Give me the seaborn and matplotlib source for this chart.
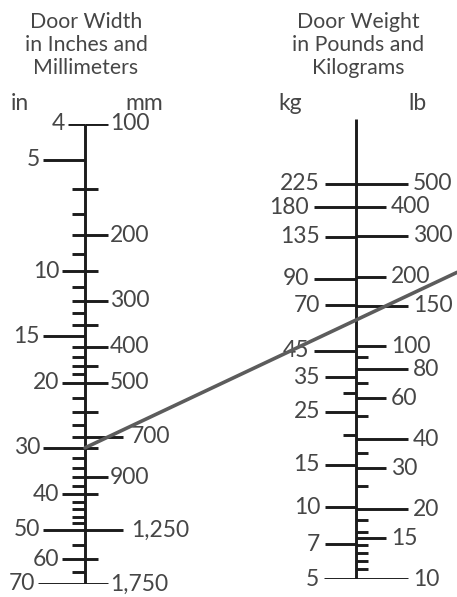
import matplotlib
matplotlib.use("Agg")
import matplotlib.pyplot as plt
import seaborn as sns

# --- door width scale (left) ---
inch_major = [4, 5, 10, 15, 20, 30, 40, 50, 60, 70]
inch_major_len = [17, 42, 23, 42, 23, 42, 23, 42, 23, 47]
inch_minor = [6, 7, 8, 9, 11, 12, 13, 14, 16, 17, 18, 19, 22, 24, 26, 28,
              32, 34, 36, 38, 42, 44, 46, 48, 55, 65]
mm_major = [100, 200, 300, 400, 500, 700, 900, 1250, 1750]
mm_labels = ["100", "200", "300", "400", "500", "700", "900", "1,250", "1,750"]
mm_major_len = [23, 23, 23, 23, 23, 38, 23, 38, 23]
mm_minor = [150, 250, 350, 450, 600, 750, 1000, 1500]

# --- door weight scale (right) ---
kg_major = [225, 180, 135, 90, 70, 45, 35, 25, 15, 10, 7, 5]
kg_major_len = [31, 42, 31, 42, 31, 42, 31, 31, 31, 31, 31, 32]
kg_minor = [30, 20]
lb_major = [500, 400, 300, 200, 150, 100, 80, 60, 40, 30, 20, 15, 10]
lb_major_len = [52, 30, 52, 30, 52, 30, 52, 30, 52, 30, 52, 30, 52]
lb_minor = [90, 70, 50, 35, 25, 18, 16, 14, 13, 12, 11]

# example reading: 30 in wide door -> ~130 lb
example_width_in = 30
example_weight_lb = 130

sns.set_theme(style="white")
plt.rcParams["font.family"] = ["Lato", "DejaVu Sans"]

W, H = 457, 597
fig = plt.figure(figsize=(W / 100, H / 100), dpi=100)
fig.patch.set_facecolor("white")

INK = "#1c1c1c"
TXT = "#464646"
LW = 2.1
FS = 16.5


def px_axes(left, right, top, bottom):
    return fig.add_axes([left / W, 1 - bottom / H, (right - left) / W, (bottom - top) / H])


def bare(ax):
    ax.set_axis_off()
    ax.patch.set_alpha(0)


# left column: axis line at x=85 px, 4 in at y=124, 70 in at y=584
ax_in = px_axes(0, 230, 124, 584)
ax_in.set_yscale("log")
ax_in.set_ylim(70, 4)
ax_in.set_xlim(-85, 145)
bare(ax_in)
ax_mm = ax_in.twinx()
ax_mm.set_yscale("log")
ax_mm.set_ylim(1750, 100)
bare(ax_mm)

ax_in.vlines(0, 4, 70, color=INK, lw=LW)
for v, ln in zip(inch_major, inch_major_len):
    ax_in.hlines(v, -ln, 0, color=INK, lw=LW)
    ax_in.text(-ln - 3, v, str(v), ha="right", va="center", fontsize=FS, color=TXT)
ax_in.hlines(inch_minor, -13, 0, color=INK, lw=LW)
for v, lab, ln in zip(mm_major, mm_labels, mm_major_len):
    ax_mm.hlines(v, 0, ln, color=INK, lw=LW)
    ax_mm.text(ln + 2 + (6 if ln > 30 else 0), v, lab, ha="left", va="center",
               fontsize=FS, color=TXT)
ax_mm.hlines(mm_minor, 0, 13, color=INK, lw=LW)

# right column: axis line at x=356 px, bottom at y=579, top at y=119
ax_kg = px_axes(230, 457, 119, 579)
ax_kg.set_yscale("log")
ax_kg.set_ylim(5, 5 * 10 ** (460 / 239))
ax_kg.set_xlim(-126, 101)
bare(ax_kg)
ax_lb = ax_kg.twinx()
ax_lb.set_yscale("log")
ax_lb.set_ylim(10, 10 * 10 ** (460 / 232.5))
bare(ax_lb)

ax_lb.vlines(0, 10, ax_lb.get_ylim()[1], color=INK, lw=LW)
for v, ln in zip(kg_major, kg_major_len):
    ax_kg.hlines(v, -ln, 0, color=INK, lw=LW)
    ax_kg.text(-ln - 5, v, str(v), ha="right", va="center", fontsize=FS, color=TXT)
ax_kg.hlines(kg_minor, -13, 0, color=INK, lw=LW)
for v, ln in zip(lb_major, lb_major_len):
    ax_lb.hlines(v, 0, ln, color=INK, lw=LW)
    ax_lb.text(ln + 5, v, str(v), ha="left", va="center", fontsize=FS, color=TXT)
ax_lb.hlines(lb_minor, 0, 12, color=INK, lw=LW)

# titles and unit labels
title_kw = dict(ha="center", va="top", fontsize=15.3, color=TXT, linespacing=1.2)
fig.text(86 / W, 1 - 12 / H, "Door Width\nin Inches and\nMillimeters", **title_kw)
fig.text(358 / W, 1 - 12 / H, "Door Weight\nin Pounds and\nKilograms", **title_kw)
unit_kw = dict(va="baseline", fontsize=FS, color=TXT)
fig.text(11 / W, 1 - 110 / H, "in", ha="left", **unit_kw)
fig.text(144 / W, 1 - 110 / H, "mm", ha="center", **unit_kw)
fig.text(290 / W, 1 - 110 / H, "kg", ha="center", **unit_kw)
fig.text(418 / W, 1 - 110 / H, "lb", ha="center", **unit_kw)

# reading line: 30 in -> weight, extended to the right edge
ov = fig.add_axes([0, 0, 1, 1])
ov.set_xlim(0, W)
ov.set_ylim(0, H)
bare(ov)
p1 = ax_in.transData.transform((0, example_width_in))
p2 = ax_lb.transData.transform((0, example_weight_lb))
slope = (p2[1] - p1[1]) / (p2[0] - p1[0])
x_end = W
y_end = p1[1] + slope * (x_end - p1[0])
sns.lineplot(x=[p1[0], x_end], y=[p1[1], y_end], ax=ov, color="#5c5c5c",
             lw=2.6, legend=False, zorder=5)
ov.set_xlim(0, W)
ov.set_ylim(0, H)

fig.savefig("out.png", dpi=100)
